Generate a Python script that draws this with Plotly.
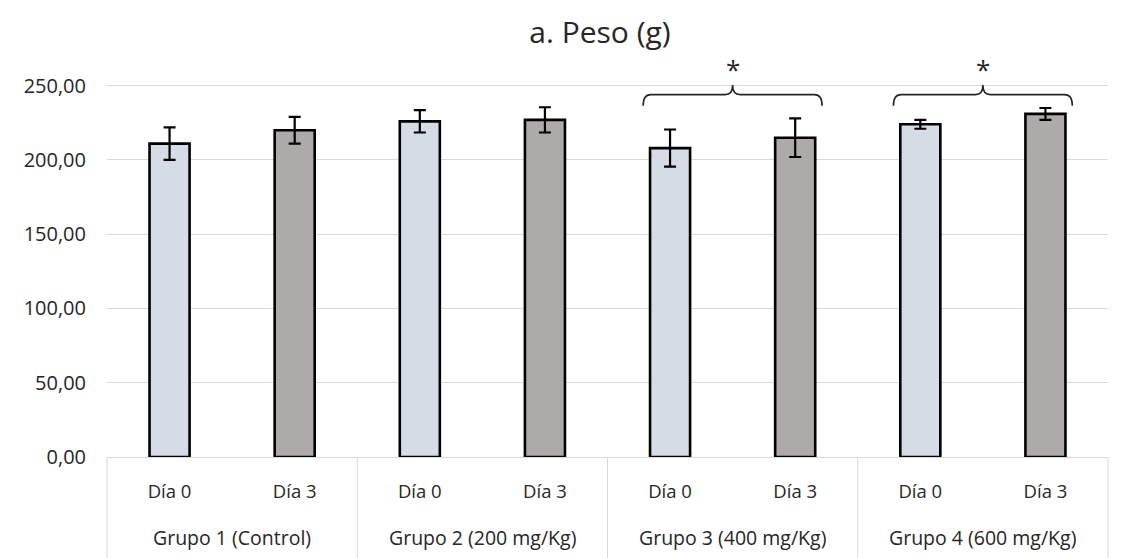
import plotly.graph_objects as go

groups = ["Grupo 1 (Control)", "Grupo 2 (200 mg/Kg)", "Grupo 3 (400 mg/Kg)", "Grupo 4 (600 mg/Kg)"]
days = ["Día 0", "Día 3"]
values = [211, 220, 226, 227, 208, 215, 224, 231]
errors = [11, 9, 7.5, 8.5, 12.5, 13, 3, 4]
day_colors = ["#D6DCE5", "#AEAAAA"]
significant_groups = [2, 3]  # indices of groups marked with *
y_ticks = [0, 50, 100, 150, 200, 250]
y_tick_labels = [f"{v:.2f}".replace(".", ",") for v in y_ticks]

n_days = len(days)
positions = list(range(len(values)))
tick_text = [days[i % n_days] for i in positions]
colors = [day_colors[i % n_days] for i in positions]

FONT = "Open Sans"
TXT = "#262626"
GRID = "#D9D9D9"
PLOT_H = 558 - 56 - 101

fig = go.Figure()
fig.add_trace(go.Bar(
    x=positions, y=values, width=0.32,
    marker=dict(color=colors, line=dict(color="black", width=2.6)),
    error_y=dict(type="data", array=errors, color="black", thickness=2.2, width=6),
    showlegend=False, hoverinfo="skip",
))

shapes = []
annotations = []
# group labels and dividers of the category box below the axis
for g, name in enumerate(groups):
    annotations.append(dict(x=g * n_days + (n_days - 1) / 2, y=0, xref="x", yref="paper",
                            yanchor="middle", yshift=-80, text=name, showarrow=False,
                            font=dict(family=FONT, size=19.5, color=TXT)))
for b in range(len(groups) + 1):
    xb = (b * n_days) / len(values)
    shapes.append(dict(type="line", xref="x domain", yref="paper", x0=xb, x1=xb,
                       y0=0, y1=-101 / PLOT_H, line=dict(color=GRID, width=1)))

# significance brackets
for g in significant_groups:
    i0, i1 = g * n_days, g * n_days + n_days - 1
    xm = (i0 + i1) / 2
    x0, x1 = i0 - 0.215, i1 + 0.215
    y0, yh, yt = 236.5, 244, 250.5
    dx = 0.06
    path = (f"M {x0},{y0} Q {x0},{yh} {x0+dx},{yh} L {xm-dx},{yh} Q {xm},{yh} {xm},{yt} "
            f"Q {xm},{yh} {xm+dx},{yh} L {x1-dx},{yh} Q {x1},{yh} {x1},{y0}")
    shapes.append(dict(type="path", path=path, xref="x", yref="y",
                       line=dict(color="#262626", width=1.6)))
    annotations.append(dict(x=xm, y=261, xref="x", yref="y", text="*", showarrow=False,
                            font=dict(family=FONT, size=26, color=TXT)))

fig.update_layout(
    width=1121, height=558,
    margin=dict(l=107, r=13, t=56, b=101, autoexpand=False),
    paper_bgcolor="white", plot_bgcolor="white",
    title=dict(text="a. Peso (g)", x=0.4925, xref="paper", xanchor="center",
               y=1 - 32 / 558, yanchor="middle",
               font=dict(family=FONT, size=30, color=TXT)),
    font=dict(family=FONT, size=18, color=TXT),
    xaxis=dict(range=[-0.5, len(values) - 0.5], tickvals=positions, ticktext=tick_text,
               showline=True, linecolor=GRID, linewidth=1, showgrid=False, zeroline=False,
               ticks="", tickfont=dict(family=FONT, size=18.5, color=TXT), ticklabelstandoff=18),
    yaxis=dict(range=[0, 270], tickvals=y_ticks, ticktext=y_tick_labels, showgrid=True,
               gridcolor=GRID, gridwidth=1, zeroline=False, showline=False,
               tickfont=dict(family=FONT, size=20, color=TXT), ticklabelstandoff=20),
    shapes=shapes, annotations=annotations,
)
fig.write_html("out.html", config={"displayModeBar": False},
               post_script="document.body.style.margin='0';")
